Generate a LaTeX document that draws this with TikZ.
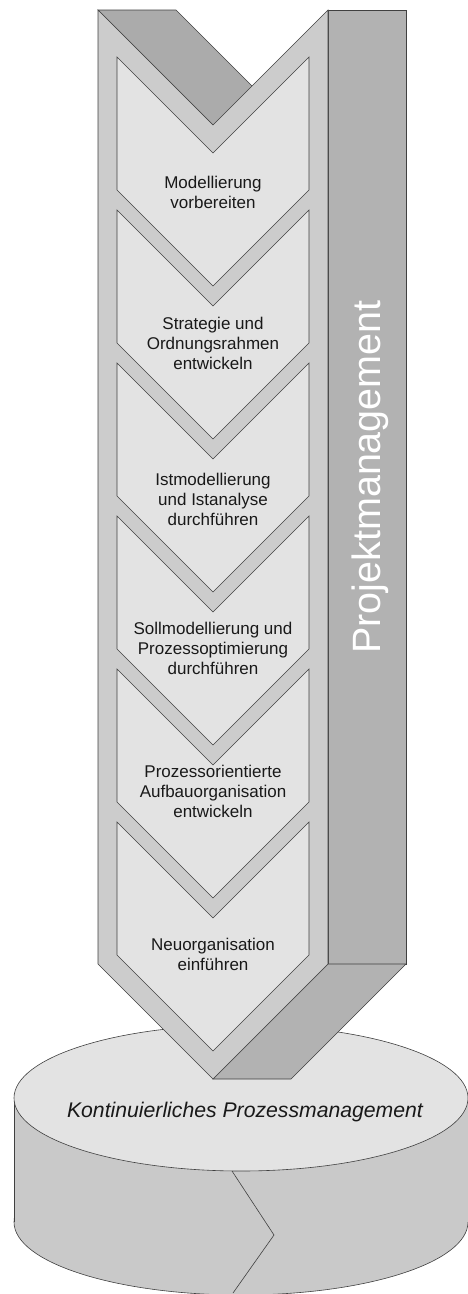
\documentclass[tikz,border=0pt]{standalone}
\usepackage{fontspec}
\setmainfont{Liberation Sans}
\begin{document}
\begin{tikzpicture}[x=1pt,y=-1pt,
  edge/.style={draw=black!75, line width=0.6pt, line join=miter},
  band/.style={edge, fill=black!20},
  stagebox/.style={edge, fill=black!11},
  sideface/.style={edge, fill=black!30},
  wall/.style={edge, fill=black!33},
  steptext/.style={align=center, font=\fontsize{17}{20}\selectfont, text=black!90, inner sep=0pt, anchor=north},
]
\useasboundingbox (0,0) rectangle (467,1294);

% ---- base cylinder ----
\filldraw[edge, fill=black!21] (241,1222) ellipse[x radius=227, y radius=73];
\fill[black!21] (14,1098) rectangle (468,1222);
\draw[edge] (14,1098) -- (14,1222);
\draw[edge] (468,1098) -- (468,1222);
\filldraw[edge, fill=black!11] (241,1098) ellipse[x radius=227, y radius=73];
\draw[edge] (232,1171) -- (274,1235) -- (233,1293);
\node[font=\fontsize{21.2}{22}\selectfont\itshape, anchor=base, inner sep=0pt, text=black!90] (kpm) at (245,1117) {Kontinuierliches Prozessmanagement};

% ---- prism: inner wall of the top notch and right side faces ----
\filldraw[wall] (98,10) -- (176,10) -- (291,125) -- (213,125) -- cycle;
\filldraw[sideface] (328,10) -- (406,10) -- (406,964) -- (328,964) -- cycle;
\filldraw[sideface] (328,964) -- (406,964) -- (291,1079) -- (213,1079) -- cycle;

% ---- front face ----
\filldraw[band] (98,10) -- (213,125) -- (328,10) -- (328,964) -- (213,1079) -- (98,964) -- cycle;

% ---- six stage chevrons ----
\foreach \i in {0,...,5}{
  \pgfmathsetmacro{\t}{57+153*\i}
  \filldraw[stagebox] (117,\t) -- (213,\t+96) -- (309,\t) -- (309,\t+133)
    -- (213,\t+229) -- (117,\t+133) -- cycle;
}

\node[steptext] (s1) at (213,175.8) {Modellierung\\vorbereiten};
\node[steptext] (s2) at (213,316.8) {Strategie und\\Ordnungsrahmen\\entwickeln};
\node[steptext] (s3) at (213,472.8) {Istmodellierung\\und Istanalyse\\durchführen};
\node[steptext] (s4) at (213,621.8) {Sollmodellierung und\\Prozessoptimierung\\durchführen};
\node[steptext] (s5) at (213,764.8) {Prozessorientierte\\Aufbauorganisation\\entwickeln};
\node[steptext] (s6) at (213,937.8) {Neuorganisation\\einführen};

% ---- side label ----
\node[rotate=90, anchor=base, text=white, font=\fontsize{39.5}{40}\selectfont, inner sep=0pt] (pm) at (380,477) {Projektmanagement};
\end{tikzpicture}
\end{document}
